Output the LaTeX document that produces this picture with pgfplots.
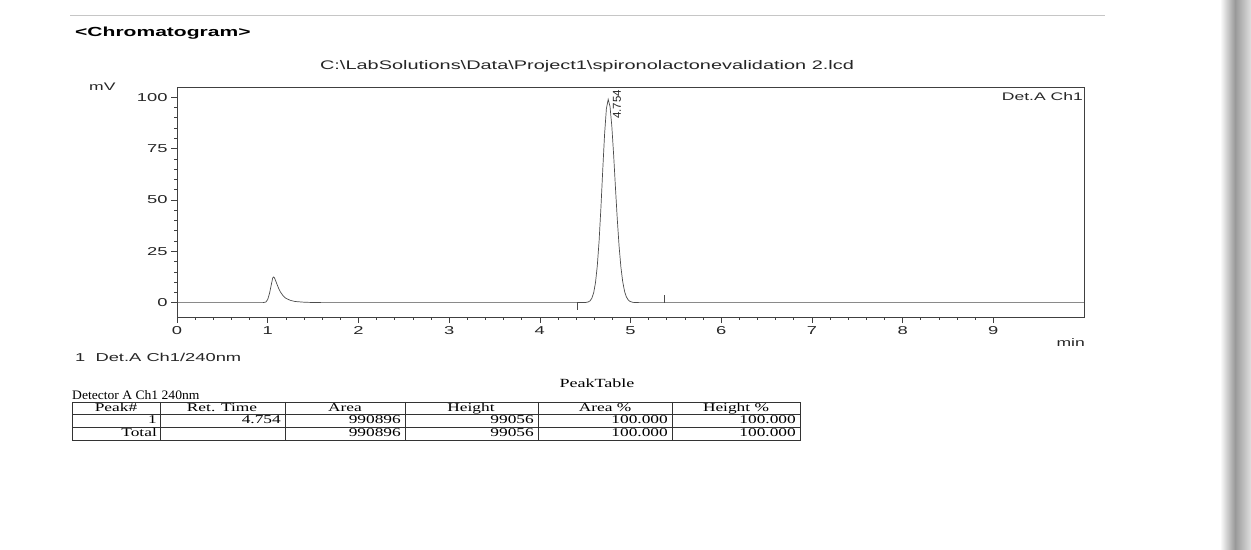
\documentclass[border=0pt]{standalone}
\usepackage{fontspec}
\setmainfont[FakeStretch=1.6]{Liberation Sans}
\newfontfamily\plainsans{Liberation Sans}
\newfontfamily\tabfont[FakeStretch=1.45]{Liberation Serif}
\newfontfamily\detfont[FakeStretch=1.05]{Liberation Serif}
\usepackage{pgfplots}
\pgfplotsset{compat=1.18}
\definecolor{ink}{gray}{0.3}
\begin{document}
\begin{tikzpicture}[x=1bp,y=1bp]
\useasboundingbox (0,0) rectangle (1251,550);
\fill[white] (0,0) rectangle (1251,550);
% scan edge and faint top rule
\draw[gray!45, line width=0.8bp] (70,535) -- (1105,535);
\shade[left color=white, right color=gray!80] (1220,0) rectangle (1235,550);
\shade[left color=gray!80, right color=gray!25] (1235,0) rectangle (1251,550);

\begin{axis}[
  at={(177bp,463bp)}, anchor=north west,
  scale only axis, width=907bp, height=230bp,
  xmin=0, xmax=10, ymin=-7, ymax=105,
  xtick={0,1,...,9}, ytick={0,25,50,75,100},
  minor x tick num=4, minor y tick num=4,
  tick align=outside, tick pos=left,
  major tick length=6bp, minor tick length=3bp,
  axis line style={black!75, line width=0.7bp},
  every tick/.style={black!75, line width=0.6bp},
  ticklabel style={font=\fontsize{11.5}{13}\selectfont, text=black!85},
  /pgf/number format/assume math mode=true,
  clip=true,
]
\addplot[ink, line width=0.7bp] coordinates {
(0,0) (0.5,0) (0.95,0) (0.98,0.3) (1.00,1.5) (1.02,4.5) (1.04,8.8) (1.055,12.0)
(1.065,12.5) (1.075,12.0) (1.09,10.4) (1.10,9.2) (1.12,7.0) (1.14,5.2) (1.17,3.3)
(1.20,2.1) (1.25,1.1) (1.30,0.55) (1.40,0.2) (1.50,0.05) (1.60,0) (2.5,0) (3.5,0)
(4.40,0) (4.504,0.06) (4.534,0.32) (4.554,0.87) (4.574,2.14) (4.594,4.79) (4.614,9.73)
(4.634,18.0) (4.654,30.3) (4.674,46.4) (4.694,64.7) (4.714,81.9) (4.734,94.4)
(4.754,99.0) (4.774,95.5) (4.794,85.9) (4.814,71.9) (4.834,56.0) (4.854,40.7)
(4.874,27.5) (4.894,17.3) (4.914,10.2) (4.934,5.56) (4.954,2.83) (4.974,1.34)
(4.994,0.59) (5.024,0.15) (5.054,0.03) (5.10,0) (6,0) (7,0) (8,0) (9,0) (10,0)
};
\addplot[ink, line width=0.6bp] coordinates {(4.41,0) (4.41,-3.5)};
\addplot[ink, line width=0.6bp] coordinates {(5.37,0) (5.37,3.5)};
\node[rotate=90, anchor=east, inner sep=0pt, font=\plainsans\fontsize{11.5}{13}\selectfont, text=black!85]
  at (axis cs:4.85,103.6) {4.754};
\end{axis}

% texts
\node[anchor=west, inner sep=0pt, font=\bfseries\fontsize{13.2}{15}\selectfont] at (75,517) {<Chromatogram>};
\node[inner sep=0pt, font=\fontsize{12.5}{14}\selectfont, text=black!85] at (587,484) {C:\textbackslash LabSolutions\textbackslash Data\textbackslash Project1\textbackslash spironolactonevalidation 2.lcd};
\node[anchor=west, inner sep=0pt, font=\fontsize{11}{13}\selectfont, text=black!85] at (89,463) {mV};
\node[anchor=east, inner sep=0pt, font=\fontsize{11}{13}\selectfont, text=black!85] at (1083,453) {Det.A Ch1};
\node[anchor=east, inner sep=0pt, font=\fontsize{11}{13}\selectfont, text=black!85] at (1085,207) {min};
\node[anchor=west, inner sep=0pt, font=\fontsize{11.5}{13}\selectfont, text=black!85] at (75,193) {1\ \ Det.A Ch1/240nm};

% peak table
\node[inner sep=0pt, font=\tabfont\fontsize{12.5}{14}\selectfont] at (597,167) {PeakTable};
\node[anchor=west, inner sep=0pt, font=\detfont\fontsize{13}{14}\selectfont] at (72,155) {Detector A Ch1 240nm};
\begin{scope}[black!80, line width=0.6bp]
\draw (72,148) rectangle (800,110);
\draw (72,136) -- (800,136);
\draw (72,123) -- (800,123);
\foreach \cx in {160,285,405,538,672} \draw (\cx,148) -- (\cx,110);
\end{scope}
\begin{scope}[every node/.style={inner sep=0pt, anchor=base, font=\tabfont\fontsize{12}{14}\selectfont}]
\node at (116,138.6) {Peak\#};
\node at (222,138.6) {Ret. Time};
\node at (345,138.6) {Area};
\node at (471,138.6) {Height};
\node at (605,138.6) {Area \%};
\node at (736,138.6) {Height \%};
\node[anchor=base east] at (157,126) {1};
\node[anchor=base east] at (281,126) {4.754};
\node[anchor=base east] at (401,126) {990896};
\node[anchor=base east] at (534,126) {99056};
\node[anchor=base east] at (668,126) {100.000};
\node[anchor=base east] at (796,126) {100.000};
\node[anchor=base east] at (157,113) {Total};
\node[anchor=base east] at (401,113) {990896};
\node[anchor=base east] at (534,113) {99056};
\node[anchor=base east] at (668,113) {100.000};
\node[anchor=base east] at (796,113) {100.000};
\end{scope}
\end{tikzpicture}
\end{document}
